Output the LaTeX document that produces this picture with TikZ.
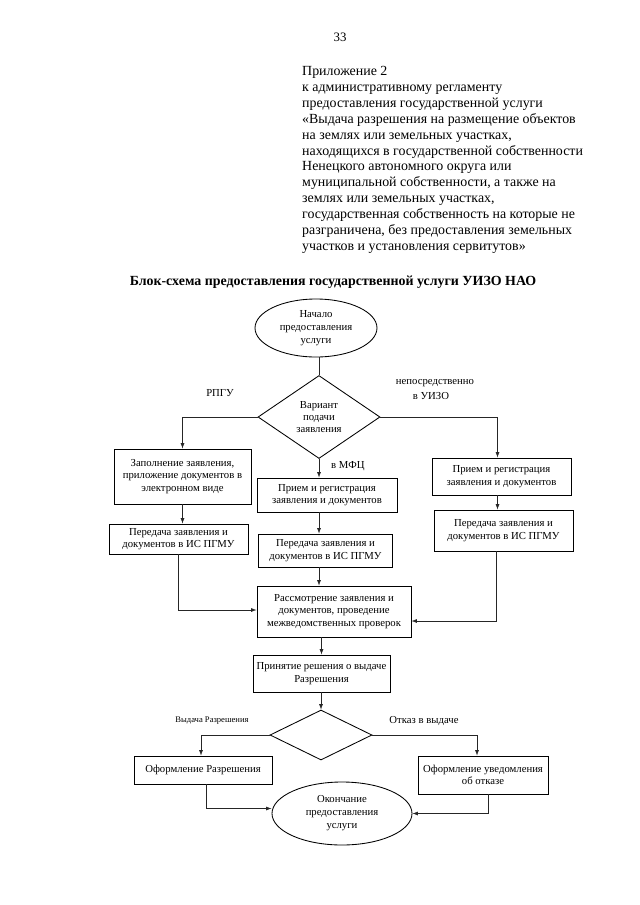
\documentclass[tikz,border=0pt]{standalone}
\usepackage{fontspec}
\setmainfont{Liberation Serif}
\usetikzlibrary{shapes.geometric,arrows.meta,calc}
\begin{document}
\begin{tikzpicture}[x=0.328125mm,y=-0.328125mm,
  bx/.style n args={2}{draw, line width=0.8pt, rectangle, align=center, inner sep=0pt,
    minimum width=#1*0.328125mm, minimum height=#2*0.328125mm,
    font=\fontsize{10}{11.6}\selectfont},
  ell/.style n args={2}{draw, line width=0.8pt, ellipse, align=center, inner sep=0pt,
    minimum width=#1*0.328125mm, minimum height=#2*0.328125mm,
    font=\fontsize{10}{12.2}\selectfont},
  dia/.style n args={2}{draw, line width=0.8pt, diamond, align=center, inner sep=0pt,
    minimum width=#1*0.328125mm, minimum height=#2*0.328125mm,
    font=\fontsize{10}{11.6}\selectfont},
  ln/.style={line width=0.55pt, black!85},
  arr/.style={ln, -{Latex[length=5pt,width=3.6pt]}},
  lbl/.style={inner sep=0pt, font=\fontsize{10}{11.6}\selectfont},
]
\useasboundingbox (0,0) rectangle (640,905);
\fill[white] (0,0) rectangle (640,905);

% page number and header
\node[inner sep=0pt, font=\fontsize{12}{14}\selectfont] (pg) at (340,37) {33};
\node[anchor=north west, inner sep=0pt, align=left, font=\fontsize{13}{14.86}\selectfont] (hdr) at (302,66)
{Приложение 2\\
к административному регламенту\\
предоставления государственной услуги\\
«Выдача разрешения на размещение объектов\\
на землях или земельных участках,\\
находящихся в государственной собственности\\
Ненецкого автономного округа или\\
муниципальной собственности, а также на\\
землях или земельных участках,\\
государственная собственность на которые не\\
разграничена, без предоставления земельных\\
участков и установления сервитутов»};
\node[anchor=base, inner sep=0pt, font=\fontsize{13}{15}\selectfont\bfseries] (ttl) at (333,285)
{Блок-схема предоставления государственной услуги УИЗО НАО};

% nodes
\node[ell={122}{58}] (start) at (316,328) {Начало\\предоставления\\услуги};
\node[dia={122}{83}] (d1) at (319,417) {Вариант\\подачи\\заявления};

\node[bx={137}{55}] (L1) at (182.5,476.5) {Заполнение заявления,\\приложение документов в\\электронном виде};
\node[bx={139}{30}] (L2) at (178.5,539) {Передача заявления и\\документов в ИС ПГМУ};

\node[bx={140}{34}] (M1) at (327,495) {Прием и регистрация\\заявления и документов};
\node[bx={134}{33}] (M2) at (325.5,550.5) {Передача заявления и\\документов в ИС ПГМУ};

\node[bx={139}{37}] (R1) at (501.5,476.5) {Прием и регистрация\\заявления и документов};
\node[bx={139}{41}] (R2) at (503.5,530.5) {Передача заявления и\\документов в ИС ПГМУ};

\node[bx={154}{51}] (C) at (334,611.5) {Рассмотрение заявления и\\документов, проведение\\межведомственных проверок};
\node[bx={137}{37}] (D) at (321.5,673.5) {Принятие решения о выдаче\\Разрешения};
\node[dia={102}{50}] (d2) at (321,735) {};

\node[bx={138}{28}] (OL) at (203,770) {Оформление Разрешения};
\node[bx={130}{38}] (OR) at (483,775) {Оформление уведомления\\об отказе};
\node[ell={140}{63}] (end) at (342,813.5) {Окончание\\предоставления\\услуги};

% labels
\node[lbl] (lr) at (220,393) {РПГУ};
\node[lbl] (lu1) at (435,383) {непосредственно};
\node[lbl] (lu2) at (431,396) {в УИЗО};
\node[lbl, anchor=west] (lm) at (331,466) {в МФЦ};
\node[inner sep=0pt, font=\fontsize{8}{9}\selectfont] (lv) at (212,721) {Выдача Разрешения};
\node[lbl] (lo) at (424,721) {Отказ в выдаче};

% connectors
\draw[ln] (start.south -| d1.north) -- (d1.north);
\draw[arr] (d1.west) -| (L1.north);
\draw[arr] (d1.east) -| ($(R1.north)+(-4,0)$);
\draw[arr] (d1.south) -- (d1.south |- M1.north);
\draw[arr] (M1.south -| d1.south) -- (M2.north -| d1.south);
\draw[arr] (M2.south -| d1.south) -- (C.north -| d1.south);
\draw[arr] (L1.south) -- (L1.south |- L2.north);
\draw[arr] (L2.south) |- ($(C.west)+(0,-1.5)$);
\draw[arr] ($(R1.south)+(-4,0)$) -- ($(R2.north)+(-6,0)$);
\draw[arr] ($(R2.south)+(-7,0)$) |- ($(C.east)+(0,9.5)$);
\draw[arr] (C.south -| D.north) -- (D.north);
\draw[arr] (D.south -| d2.north) -- (d2.north);
\draw[arr] (d2.west) -| ($(OL.north)+(-2,0)$);
\draw[arr] (d2.east) -| ($(OR.north)+(-6,0)$);
\draw[arr] ($(OL.south)+(3,0)$) |- ($(end.west)+(0,-5)$);
\draw[arr] ($(OR.south)+(5,0)$) |- (end.east);
\end{tikzpicture}
\end{document}
